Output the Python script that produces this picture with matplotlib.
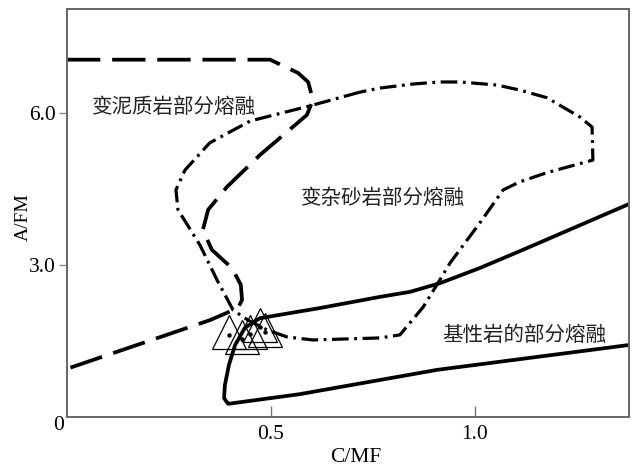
import matplotlib
matplotlib.use("Agg")
import matplotlib.pyplot as plt

plt.rcParams['lines.scale_dashes'] = False

# Metapelite partial melting field boundary (dashed)
pelite_x = [0.0, 0.498, 0.566, 0.591, 0.603, 0.588, 0.473, 0.392, 0.346, 0.333,
            0.355, 0.404, 0.426, 0.429, 0.419, 0.350, 0.007]
pelite_y = [7.05, 7.05, 6.79, 6.61, 6.26, 5.96, 5.17, 4.54, 4.09, 3.69,
            3.30, 2.94, 2.61, 2.31, 2.15, 1.91, 0.97]

# Metagreywacke partial melting field (dash-dot, closed)
grey_x = [0.718, 0.596, 0.449, 0.350, 0.289, 0.267, 0.272, 0.326, 0.368, 0.407,
          0.444, 0.490, 0.539, 0.603, 0.767, 0.816, 0.841, 0.873, 0.909, 0.939,
          0.963, 1.012, 1.069, 1.110, 1.176, 1.289, 1.287, 1.257, 1.176, 1.110,
          1.054, 0.963, 0.914, 0.848, 0.767, 0.718]
grey_y = [6.41, 6.14, 5.84, 5.41, 4.87, 4.48, 4.09, 3.39, 2.70, 2.11,
          1.91, 1.72, 1.58, 1.52, 1.56, 1.62, 1.86, 2.17, 2.64, 3.04,
          3.30, 3.83, 4.48, 4.64, 4.82, 5.07, 5.72, 5.92, 6.30, 6.45,
          6.55, 6.61, 6.61, 6.57, 6.49, 6.41]

# Basaltic partial melting field (solid)
basalt_x = [1.377, 1.118, 1.012, 0.914, 0.841, 0.767, 0.620, 0.473, 0.436, 0.412,
            0.397, 0.387, 0.385, 0.395, 0.570, 0.907, 1.377]
basalt_y = [4.20, 3.30, 2.94, 2.64, 2.47, 2.37, 2.15, 1.95, 1.76, 1.42,
            1.03, 0.63, 0.37, 0.26, 0.45, 0.93, 1.42]

# Samples (triangles)
sample_x = [0.397, 0.429, 0.485, 0.473, 0.449]
sample_y = [1.67, 1.58, 1.72, 1.82, 1.68]

xticks = [0.5, 1.0]
xtick_labels = ['0.5', '1.0']
yticks = [3.0, 6.0]
ytick_labels = ['3.0', '6.0']

labels = ['变泥质岩部分熔融', '变杂砂岩部分熔融', '基性岩的部分熔融']
label_pos = [(0.062, 6.12), (0.573, 4.32), (0.919, 1.62)]

W, H = 637, 465
fig = plt.figure(figsize=(W / 100, H / 100), dpi=100)
ax = fig.add_axes([67 / W, 48 / H, 562 / W, 408 / H])
ax.set_xlim(0, 1.3775)
ax.set_ylim(0, 8.05)

ax.plot(pelite_x, pelite_y, color='black', lw=2.7, dashes=(24, 8.5),
        solid_capstyle='butt', dash_capstyle='butt')
ax.plot(grey_x, grey_y, color='black', lw=2.3, dashes=(12, 4, 2, 4),
        dash_capstyle='butt')
ax.plot(basalt_x, basalt_y, color='black', lw=2.7, solid_joinstyle='round')

ax.plot(sample_x, sample_y, linestyle='none', marker='^', markersize=24,
        markerfacecolor='none', markeredgecolor='black', markeredgewidth=0.9)
ax.plot(sample_x, [v - 0.05 for v in sample_y], linestyle='none', marker='o',
        markersize=2.2, color='black')

serif = ['Liberation Serif', 'DejaVu Serif']
cjk = ['Noto Sans CJK SC', 'DejaVu Sans']
for t, (lx, ly) in zip(labels, label_pos):
    ax.text(lx, ly, t, fontsize=14.8, family=cjk, color='#222222',
            ha='left', va='center')

ax.set_xticks(xticks)
ax.set_xticklabels(xtick_labels, family=serif, fontsize=15.5)
ax.set_yticks(yticks)
ax.set_yticklabels(ytick_labels, family=serif, fontsize=15.5)
ax.tick_params(axis='x', direction='in', length=8, width=1, color='#777777', pad=6)
ax.tick_params(axis='y', direction='out', length=6, width=1, color='#888888', pad=2)

for s in ax.spines.values():
    s.set_color('#666666')
    s.set_linewidth(1.4)

fig.text(59 / W, 1 - 425 / H, '0', family=serif, fontsize=15.5,
         ha='center', va='center')
fig.text(356 / W, 1 - 457 / H, 'C/MF', family=serif, fontsize=15.5,
         ha='center', va='center')
fig.text(23 / W, 1 - 217 / H, 'A/FM', family=serif, fontsize=14,
         ha='center', va='center', rotation=90)

fig.savefig('out.png', dpi=100)
